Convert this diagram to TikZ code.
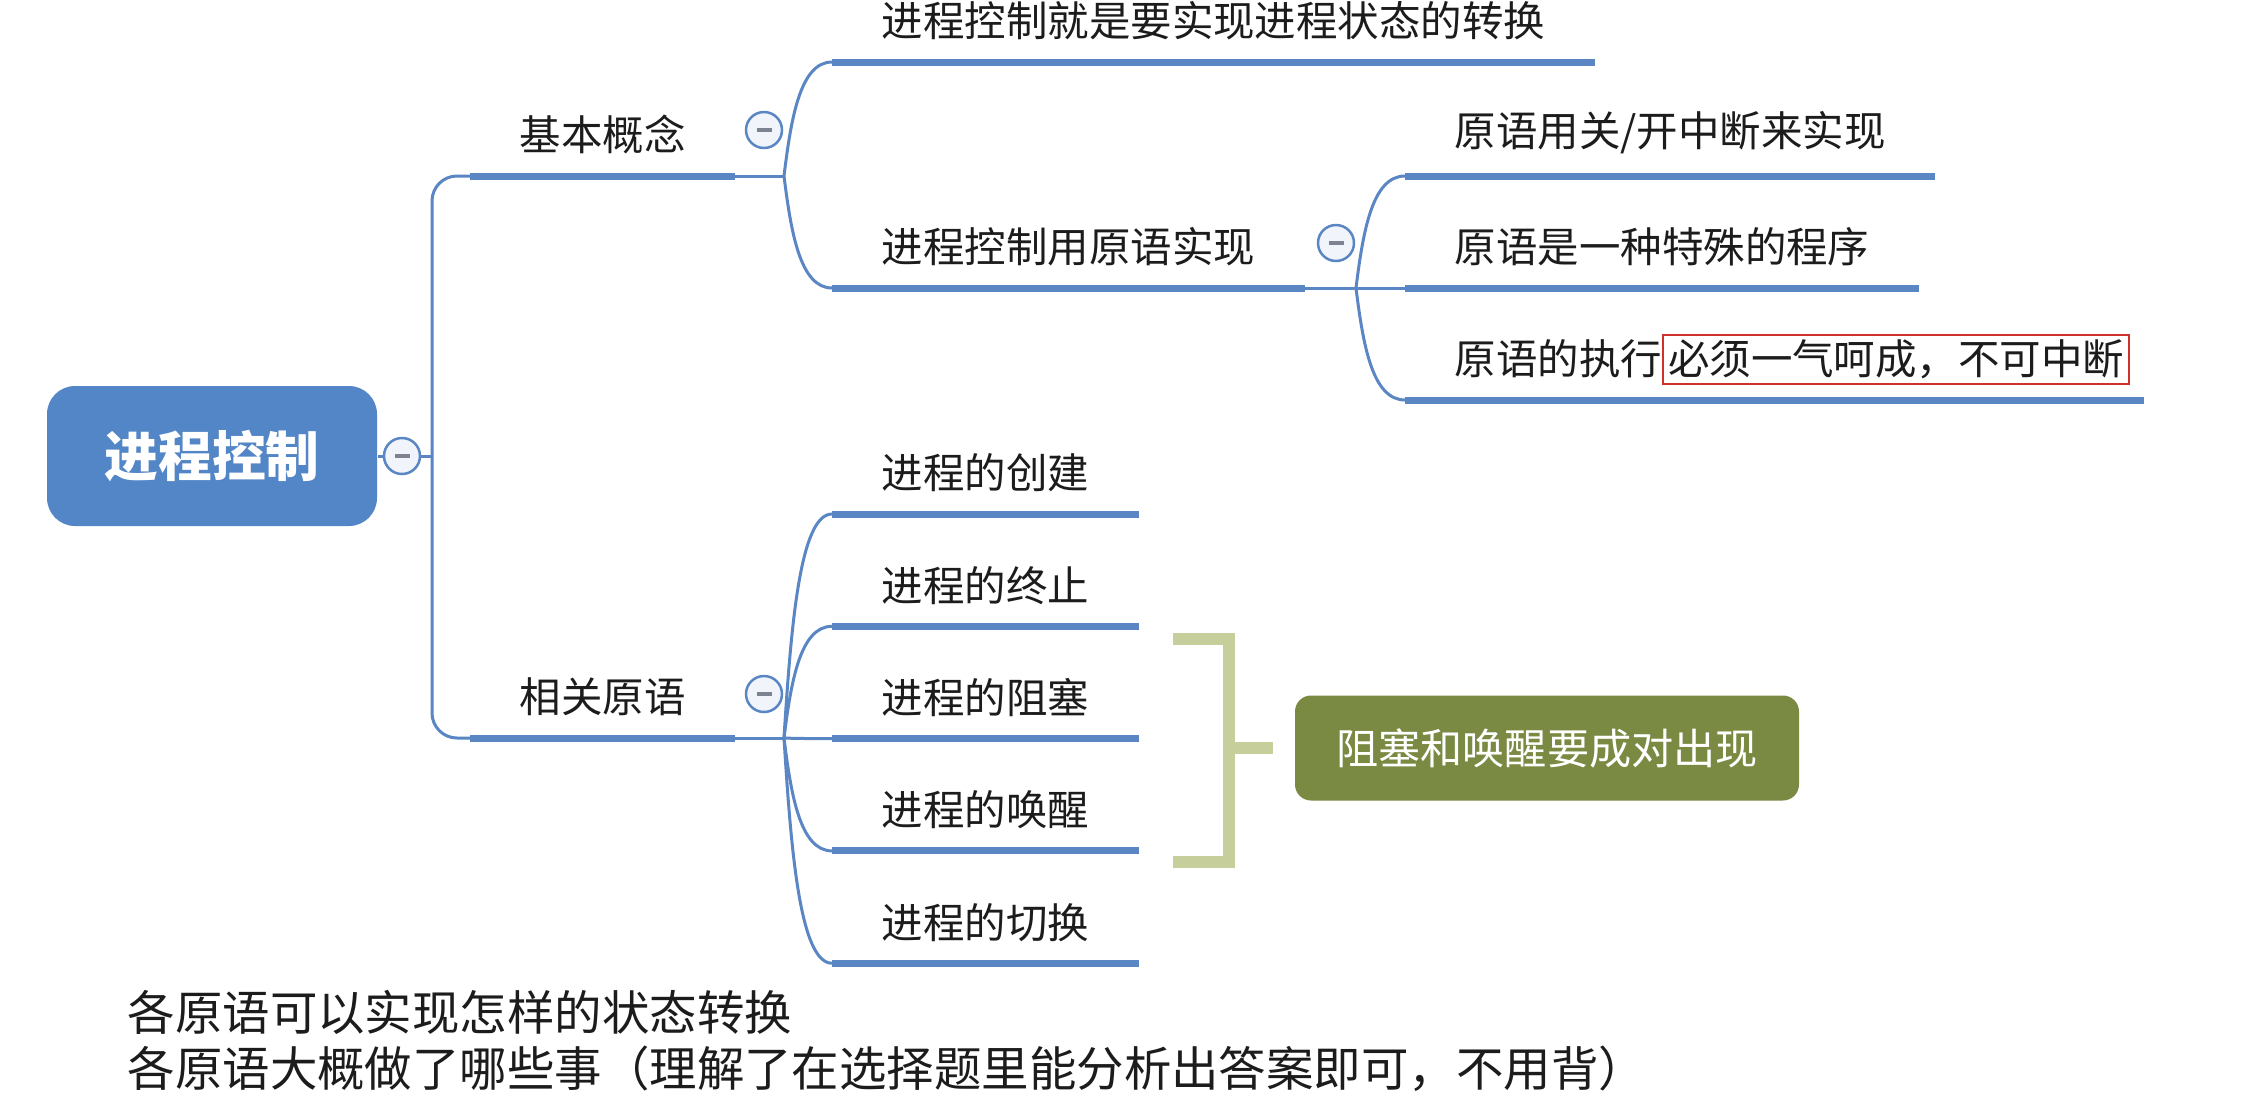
\documentclass[tikz,border=0pt]{standalone}
\usepackage{fontspec}
\setmainfont{Noto Sans CJK SC}
\usepackage{xcolor}
\definecolor{mapblue}{HTML}{5386C6}
\definecolor{lineblue}{HTML}{5A87C4}
\definecolor{knobfill}{HTML}{F1F4FA}
\definecolor{knobdash}{HTML}{7D8390}
\definecolor{pairolive}{HTML}{7A8A43}
\definecolor{bracketgreen}{HTML}{C6CE9C}
\definecolor{markred}{HTML}{D0312D}
\definecolor{inkblack}{HTML}{1C1C1C}
\usepackage{tikz}
\usetikzlibrary{positioning, calc}
\newcommand{\mapfont}{\fontsize{11.8pt}{14pt}\selectfont}
\newcommand{\knobminus}{\textcolor{knobdash}{\rule{1.5mm}{0.35mm}}}
\tikzset{
  rootbox/.style={rectangle, rounded corners=2.8mm, fill=mapblue, text=white, align=center,
                  minimum width=33mm, minimum height=14mm, font=\fontsize{15.3pt}{18pt}\selectfont\bfseries},
  topic/.style ={anchor=south west, inner xsep=4.9mm, inner ysep=2.1mm, text=inkblack, font=\mapfont},
  uline/.style ={line width=0.7mm, color=lineblue},
  twig/.style  ={line width=0.3mm, color=lineblue},
  knob/.style  ={circle, draw=lineblue, line width=0.25mm, fill=knobfill, minimum size=3.6mm, inner sep=0pt},
  pairbox/.style={rectangle, rounded corners=1.6mm, fill=pairolive, text=white, align=center,
                  minimum width=50.4mm, minimum height=10.5mm, font=\fontsize{12pt}{14pt}\selectfont},
  bracketline/.style={line width=1.2mm, color=bracketgreen},
  memo/.style  ={anchor=west, inner sep=0pt, text=inkblack, font=\fontsize{13.5pt}{16pt}\selectfont},
}
% curved branch from a junction to the start of a topic's underline
\newcommand{\branch}[2]{%
  \draw[twig] (#1) .. controls ($(#1)!0.5!(#1 |- #2.south west)+(7,0)$)
                         and ($(#1 |- #2.south west)+(16,0)$) .. (#2.south west);}

\begin{document}
\begin{tikzpicture}[x=0.1mm, y=-0.1mm]
  \useasboundingbox[fill=white] (0,0) rectangle (2257,1101);
  % root and first level
  \node[rootbox] (root) at (212,456) {进程控制};
  \node[topic] (basic) at (470,176) {基本概念};
  \node[topic] (prim) at (470,738) {相关原语};
  \coordinate (trunk) at (432,456);
  \draw[twig] (root.east) -- (trunk);
  \draw[twig, rounded corners=2.5mm] (trunk) |- (basic.south west);
  \draw[twig, rounded corners=2.5mm] (trunk) |- (prim.south west);
  \draw[uline] (basic.south west) -- (basic.south east);
  \draw[uline] (prim.south west) -- (prim.south east);

  % basic concepts
  \coordinate (j1) at (784,176);
  \node[topic] (goal) at (832,62) {进程控制就是要实现进程状态的转换};
  \node[topic] (how) at (832,288) {进程控制用原语实现};
  \draw[twig] (basic.south east) -- (j1);
  \foreach \n in {goal, how} {
    \branch{j1}{\n}
    \draw[uline] (\n.south west) -- (\n.south east);
  }

  % primitives explained
  \coordinate (j2) at (1356,288);
  \node[topic] (irq) at (1405,176) {原语用关/开中断来实现};
  \node[topic] (special) at (1405,288) {原语是一种特殊的程序};
  \node[topic] (atomic) at (1405,400) {原语的执行{\color{markred}\fboxrule=0.2mm\fboxsep=0.4mm\smash{\fbox{\color{inkblack}必须一气呵成，不可中断}}}};
  \draw[twig] (how.south east) -- (j2);
  \foreach \n in {irq, special, atomic} {
    \branch{j2}{\n}
  }
  \draw[uline] (irq.south west) -- (irq.south east);
  \draw[uline] (special.south west) -- (special.south east);
  \draw[uline] (atomic.south west) -- ([xshift=-3.6mm]atomic.south east);

  % related primitives
  \coordinate (j3) at (784,738);
  \draw[twig] (prim.south east) -- (j3);
  \foreach \n/\txt [count=\i] in {create/进程的创建, stop/进程的终止, block/进程的阻塞, wake/进程的唤醒, switch/进程的切换} {
    \node[topic] (\n) at (832,{401.7+112.3*\i}) {\txt};
    \branch{j3}{\n}
    \draw[uline] (\n.south west) -- (\n.south east);
  }

  % bracket and note
  \node[pairbox] (pair) at (1547,748) {阻塞和唤醒要成对出现};
  \coordinate (brtop) at (1173,639);
  \coordinate (brbot) at (1173,862);
  \coordinate (brmid) at (1229,748);
  \draw[bracketline] (brtop) -| (brmid |- brbot) -- (brbot);
  \draw[bracketline, shorten >=2.1mm] (brmid) -- (pair.west);

  % collapse knobs
  \node[knob] (k0) at (402,456) {\knobminus};
  \node[knob] (k1) at (764,130) {\knobminus};
  \node[knob] (k2) at (1336,243) {\knobminus};
  \node[knob] (k3) at (764,694) {\knobminus};

  % notes below
  \node[memo] (memo1) at (127,1012) {各原语可以实现怎样的状态转换};
  \node[memo] (memo2) at (127,1069) {各原语大概做了哪些事（理解了在选择题里能分析出答案即可，不用背）};
\end{tikzpicture}
\end{document}
